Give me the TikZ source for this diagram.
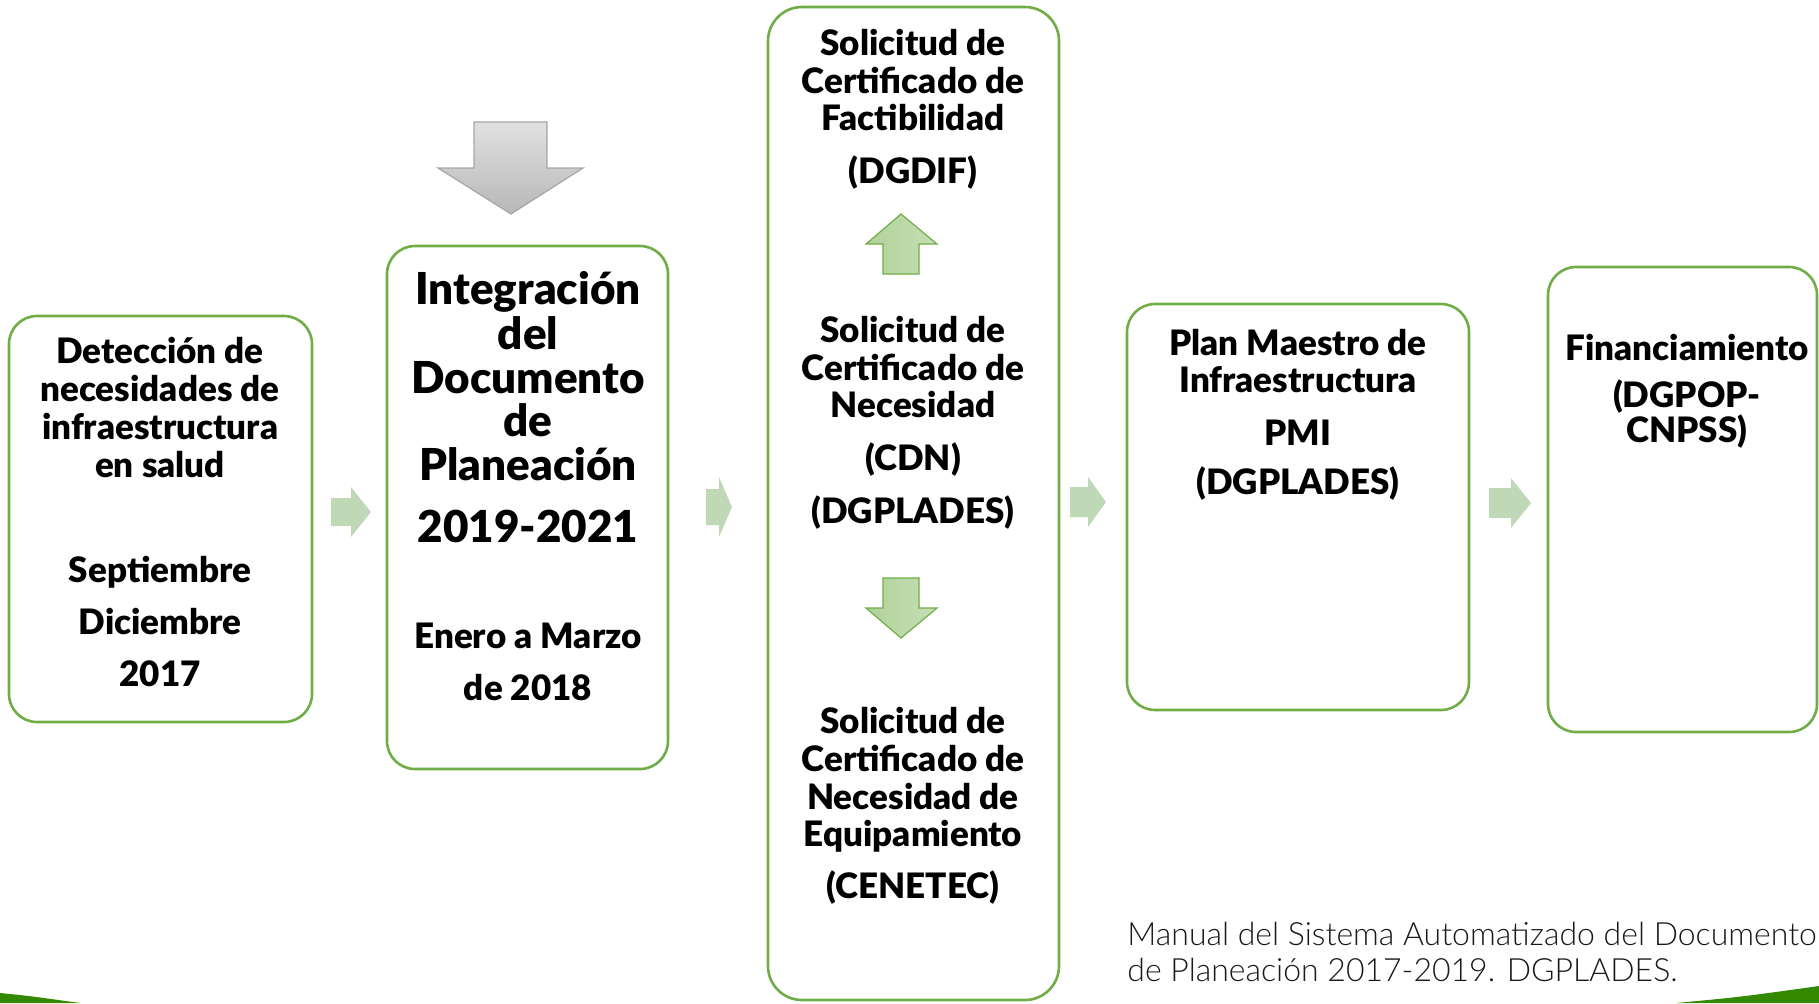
\documentclass[tikz,border=0pt]{standalone}
\usepackage{fontspec}
\setmainfont{Lato}[BoldFont={Lato Black}]
\newfontfamily\finefont{Lato Light}
\usetikzlibrary{fit}
\definecolor{boxgreen}{HTML}{70AD47}
\definecolor{paleg}{HTML}{BFD8B5}
\definecolor{darkg}{HTML}{338A00}
\begin{document}
\begin{tikzpicture}[x=0.5pt,y=-0.5pt]
\tikzstyle{every node}+=[inner sep=0pt]
\tikzstyle{panel}=[draw=boxgreen, line width=1.3pt, rounded corners=14pt]
\tikzstyle{txt}=[anchor=base, font=\fontsize{17.5}{19}\selectfont\bfseries]
\tikzstyle{big}=[anchor=base, font=\fontsize{22}{22}\selectfont\bfseries]
\tikzstyle{citetxt}=[anchor=base west, font=\fontsize{16}{18}\selectfont\finefont, text=black!90]
\tikzstyle{flecha}=[draw=boxgreen, line width=0.6pt, left color=boxgreen!55, right color=boxgreen!40]
\useasboundingbox (0,0) rectangle (1819,1003);
\fill [darkg] (0,993) .. controls (30,996) .. (80,1003) -- (0,1003) -- cycle;
\fill [darkg] (1676,1003) .. controls (1740,997) .. (1819,986) -- (1819,1003) -- cycle;
\node [panel, fit={(9,316) (312,722)}] (det) {};
\node [panel, fit={(387,246) (668,769)}] (integ) {};
\node [panel, fit={(768,7) (1059,1000)}, rounded corners=17pt] (solic) {};
\node [panel, fit={(1127,304) (1469,710)}] (pmi) {};
\node [panel, fit={(1548,267) (1817,732)}] (finan) {};
\foreach \y/\t [count=\i] in {363/Detección de, 401/necesidades de, 439/infraestructura, 477/en salud, 582/Septiembre, 634/Diciembre, 686/2017}
  \node [txt] (det\i) at (160,\y) {\t};
\foreach \y/\t [count=\i] in {304/Integración, 349/del, 393/Documento, 436/de, 480/Planeación, 542/2019-2021}
  \node [big] (integ\i) at (528,\y) {\t};
\node [txt] (integ7) at (528,648) {Enero a Marzo};
\node [txt] (integ8) at (528,700) {de 2018};
\foreach \y/\t [count=\i] in {55/Solicitud de, 93/Certificado de, 130/Factibilidad, 183/(DGDIF)}
  \node [txt] (fact\i) at (913,\y) {\t};
\foreach \y/\t [count=\i] in {342/Solicitud de, 380/Certificado de, 417/Necesidad, 470/(CDN), 523/(DGPLADES)}
  \node [txt] (nec\i) at (913,\y) {\t};
\foreach \y/\t [count=\i] in {733/Solicitud de, 771/Certificado de, 809/Necesidad de, 846/Equipamiento, 898/(CENETEC)}
  \node [txt] (equip\i) at (913,\y) {\t};
\foreach \y/\t [count=\i] in {355/Plan Maestro de, 392/Infraestructura, 445/PMI, 494/(DGPLADES)}
  \node [txt] (pmi\i) at (1298,\y) {\t};
\foreach \y/\t [count=\i] in {360/Financiamiento, 407/(DGPOP-, 442/CNPSS)}
  \node [txt] (finan\i) at (1687,\y) {\t};
\node [citetxt] (cita1) at (1127,945) {Manual del Sistema Automatizado del Documento};
\node [citetxt] (cita2) at (1127,981) {de Planeación 2017-2019. DGPLADES.};
\foreach \a/\b/\c/\m/\s/\h in {331/351/371/512/14/25, 706/719/732/507/18/30, 1070/1088/1106/502/15/25, 1489/1511/1531/503/15/25}
  \fill [paleg] (\a,\m-\s) -- (\b,\m-\s) -- (\b,\m-\h) -- (\c,\m) -- (\b,\m+\h) -- (\b,\m+\s) -- (\a,\m+\s) -- cycle;
\draw [draw=black!35, line width=0.6pt, top color=black!12, bottom color=black!28] (474,122) -- (547,122) -- (547,168) -- (583,168) -- (511,214) -- (438,168) -- (474,168) -- cycle;
\draw [flecha] (901,214) -- (937,244) -- (919,244) -- (919,274) -- (883,274) -- (883,244) -- (866,244) -- cycle;
\draw [flecha] (883,578) -- (919,578) -- (919,608) -- (937,608) -- (901,638) -- (866,608) -- (883,608) -- cycle;
\end{tikzpicture}
\end{document}
